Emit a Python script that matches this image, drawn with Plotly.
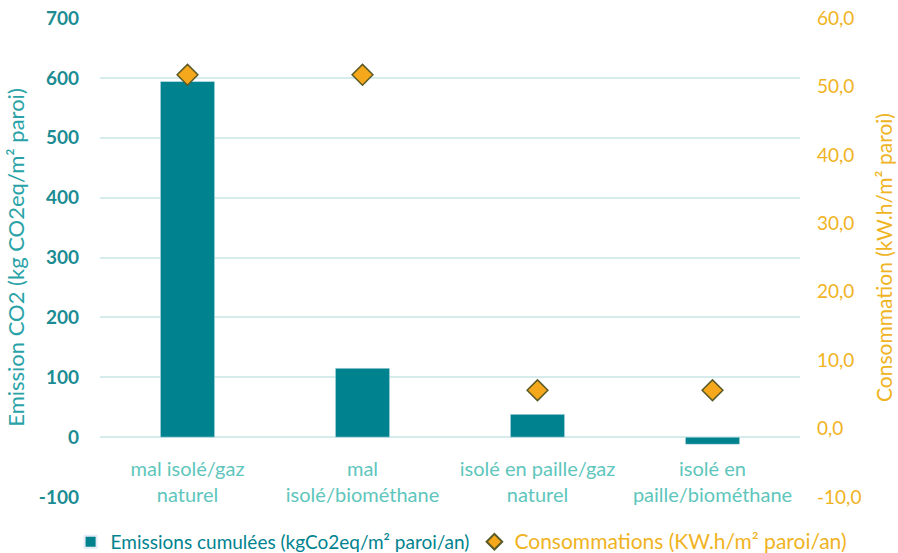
import plotly.graph_objects as go

categories = ["mal isolé/gaz<br>naturel", "mal<br>isolé/biométhane",
              "isolé en paille/gaz<br>naturel", "isolé en<br>paille/biométhane"]
emissions = [594, 115, 38, -12]
consommations = [51.7, 51.7, 5.6, 5.6]

left_ticks = [-100, 0, 100, 200, 300, 400, 500, 600, 700]
left_labels = ["-100", "0", "100", "200", "300", "400", "500", "600", "700"]
right_ticks = [-10, 0, 10, 20, 30, 40, 50, 60]
right_labels = ["-10,0", "0,0", "10,0", "20,0", "30,0", "40,0", "50,0", "60,0"]

TEAL = "#00838f"
TEAL_LABEL = "#1b8c93"
TEAL_LIGHT = "#5ec6bc"
ORANGE = "#f0b323"
FONT = "Lato"

fig = go.Figure()
fig.add_trace(go.Bar(
    x=categories, y=emissions, name="Emissions cumulées (kgCo2eq/m² paroi/an)",
    marker=dict(color=TEAL), width=0.31, yaxis="y",
))
fig.add_trace(go.Scatter(
    x=categories, y=consommations, mode="markers",
    name="<span style='color:%s;font-size:21px'>Consommations (KW.h/m² paroi/an)</span>" % ORANGE,
    marker=dict(symbol="diamond", size=16, color="#f5a81c",
                line=dict(color="#5b5a26", width=1.5)),
    yaxis="y2",
))

fig.update_layout(
    width=898, height=553,
    margin=dict(l=100, r=98, t=18, b=56, autoexpand=False),
    paper_bgcolor="white", plot_bgcolor="white",
    font=dict(family=FONT, size=16, color=TEAL),
    showlegend=True,
    legend=dict(orientation="h", x=-0.042, xanchor="left", y=-0.054, yanchor="top",
                font=dict(family=FONT, size=19, color=TEAL),
                itemsizing="constant", tracegroupgap=0, itemwidth=30),
    xaxis=dict(
        anchor="free", position=0.125,
        tickfont=dict(family=FONT, size=20, color=TEAL_LIGHT),
        showgrid=False, showline=False, ticks="", zeroline=False,
        ticklabelstandoff=18,
    ),
    yaxis=dict(
        range=[-100, 700], tickvals=left_ticks, ticktext=left_labels,
        tickfont=dict(family=FONT, size=19, color=TEAL_LABEL, weight="bold"),
        gridcolor="#d6ecec", gridwidth=1.5, zeroline=False, showline=False,
        title=dict(text="Emission CO2 (kg CO2eq/m² paroi)",
                   font=dict(family=FONT, size=22, color="#2aa3a8"), standoff=8),
        ticklabelstandoff=20,
    ),
    yaxis2=dict(
        range=[-10, 60], tickvals=right_ticks, ticktext=right_labels,
        overlaying="y", side="right", showgrid=False, zeroline=False, showline=False,
        tickfont=dict(family=FONT, size=19, color=ORANGE),
        title=dict(text="Consommation (kW.h/m² paroi)",
                   font=dict(family=FONT, size=21, color=ORANGE), standoff=16),
        ticklabelstandoff=16,
    ),
)

fig.write_html("out.html", config={"displayModeBar": False},
               post_script="document.body.style.margin='0';")
